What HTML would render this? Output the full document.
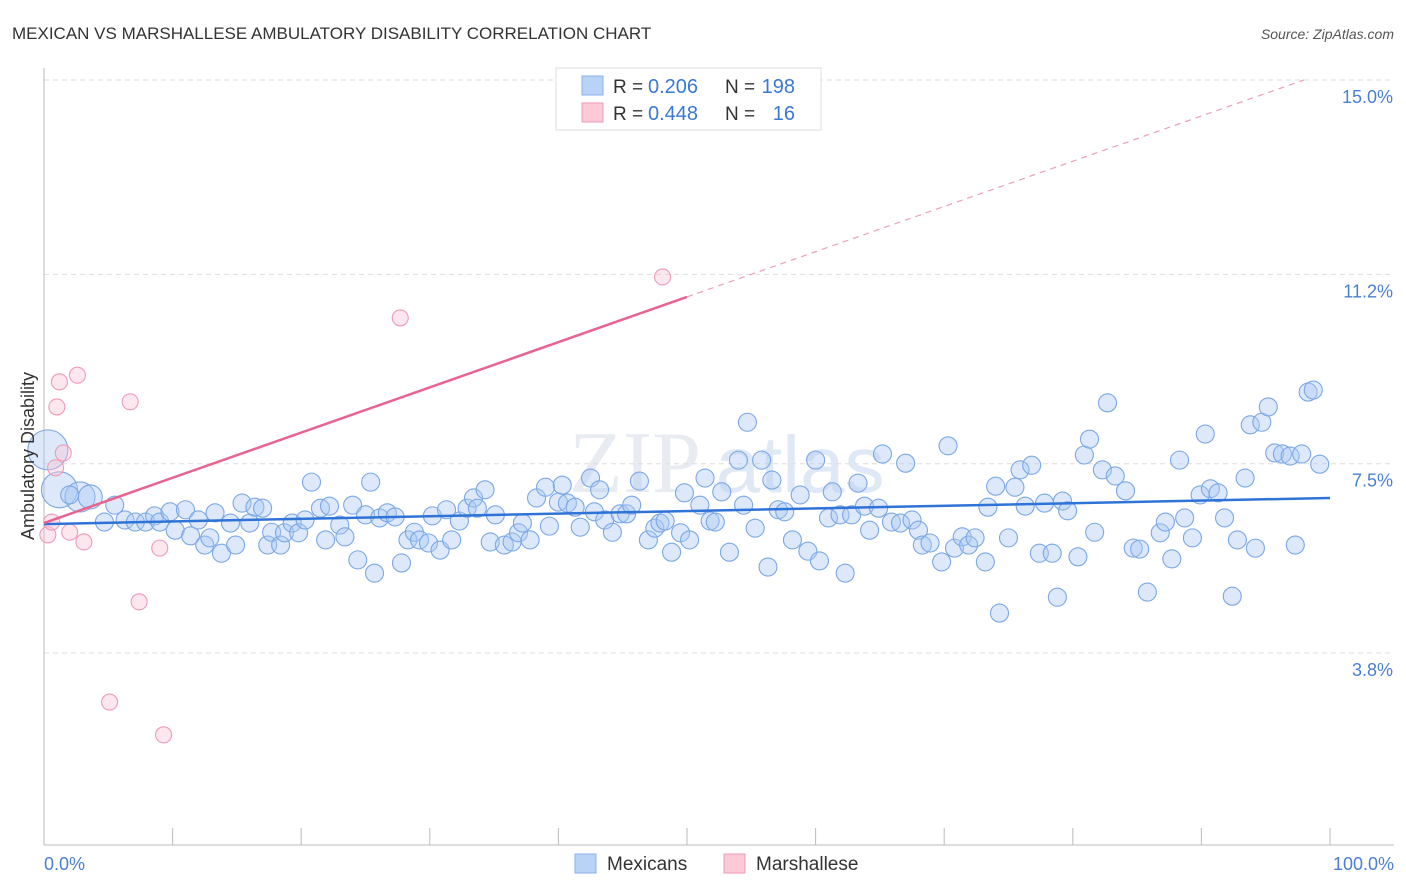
<!DOCTYPE html>
<html><head><meta charset="utf-8"><style>
body{margin:0;background:#fff;font-family:"Liberation Sans",sans-serif;}
svg{display:block}
</style></head><body>
<svg id="chart" width="1406" height="892">
<text x="12" y="39" font-size="17" fill="#333">MEXICAN VS MARSHALLESE AMBULATORY DISABILITY CORRELATION CHART</text>
<text x="1394" y="39" font-size="14" fill="#555" font-style="italic" text-anchor="end">Source: ZipAtlas.com</text>
<g>
<text x="635" y="492" font-size="88" fill="#e8ecf2" text-anchor="middle" font-family="Liberation Serif">ZIP</text>
<text x="800" y="492" font-size="80" fill="#dfe8f5" text-anchor="middle">atlas</text>
</g>
<g id="grid"></g>
<g id="axes"></g>
<g id="pts"></g>
<g id="trend"></g>
<text transform="translate(34,456) rotate(-90)" font-size="18" fill="#333" text-anchor="middle">Ambulatory Disability</text>
<text x="44" y="870" font-size="18" fill="#4a7fd4">0.0%</text>
<text x="1394" y="870" font-size="18" fill="#4a7fd4" text-anchor="end">100.0%</text>
<g>
<rect x="556" y="68" width="265" height="62" fill="#fff" stroke="#ddd"/>
<rect x="582" y="76" width="21" height="19" fill="#b9d3f7" stroke="#8ab2ec"/>
<rect x="582" y="103" width="21" height="19" fill="#fcc9d7" stroke="#f19ab5"/>
<text x="613" y="93" font-size="19" fill="#333">R =</text>
<text x="648" y="93" font-size="20" fill="#3a78d6">0.206</text>
<text x="725" y="93" font-size="19" fill="#333">N =</text>
<text x="795" y="93" font-size="20" fill="#3a78d6" text-anchor="end">198</text>
<text x="613" y="120" font-size="19" fill="#333">R =</text>
<text x="648" y="120" font-size="20" fill="#3a78d6">0.448</text>
<text x="725" y="120" font-size="19" fill="#333">N =</text>
<text x="795" y="120" font-size="20" fill="#3a78d6" text-anchor="end">16</text>
</g>
<g>
<rect x="575" y="854" width="21" height="19" fill="#b9d3f7" stroke="#8ab2ec"/>
<text x="607" y="870" font-size="19" fill="#333">Mexicans</text>
<rect x="724" y="854" width="21" height="19" fill="#fcc9d7" stroke="#f19ab5"/>
<text x="756" y="870" font-size="19" fill="#333">Marshallese</text>
</g>
</svg>
<script>
const yTicks=[15.0,11.2,7.5,3.8];
const yTickLabels=["15.0%","11.2%","7.5%","3.8%"];
const xTicks=[0,10,20,30,40,50,60,70,80,90,100];
const blueX=[0.3,1.2,2.8,3.6,2.0,4.7,5.5,6.3,7.1,7.9,8.6,9.0,9.8,10.2,11.0,11.4,12.0,12.5,12.9,13.3,13.8,14.5,14.9,15.4,16.0,16.4,17.0,17.4,17.7,18.4,18.7,19.3,19.8,20.3,20.8,21.5,21.9,22.2,23.0,23.4,24.0,24.4,25.0,25.4,25.7,26.1,26.7,27.3,27.8,28.3,28.8,29.2,29.9,30.2,30.8,31.3,31.7,32.3,32.9,33.4,33.7,34.3,34.7,35.1,35.8,36.4,36.9,37.2,37.8,38.3,39.0,39.3,40.0,40.3,40.7,41.3,41.7,42.5,42.8,43.2,43.6,44.2,44.8,45.3,45.7,46.3,47.0,47.5,47.9,48.3,48.8,49.5,49.8,50.2,51.0,51.4,51.8,52.2,52.7,53.3,54.0,54.4,54.7,55.3,55.8,56.3,56.6,57.1,57.6,58.2,58.8,59.4,60.0,60.3,61.0,61.3,61.9,62.3,62.8,63.3,63.8,64.2,64.9,65.2,65.9,66.6,67.0,67.5,68.0,68.3,68.9,69.8,70.3,70.8,71.4,71.9,72.4,73.2,73.4,74.0,74.3,75.0,75.5,75.9,76.3,76.8,77.4,77.8,78.4,78.8,79.2,79.6,80.4,80.9,81.3,81.7,82.3,82.7,83.3,84.1,84.7,85.2,85.8,86.8,87.2,87.7,88.3,88.7,89.3,89.9,90.3,90.7,91.3,91.8,92.4,92.8,93.4,93.8,94.2,94.7,95.2,95.7,96.3,96.9,97.3,97.8,98.3,98.7,99.2];
const blueY=[7.77,6.99,6.85,6.85,6.89,6.36,6.69,6.40,6.36,6.36,6.48,6.36,6.56,6.20,6.60,6.09,6.40,5.91,6.05,6.54,5.75,6.34,5.91,6.73,6.34,6.65,6.63,5.91,6.16,5.91,6.15,6.34,6.15,6.40,7.14,6.63,6.01,6.67,6.30,6.07,6.69,5.62,6.50,7.14,5.36,6.44,6.54,6.46,5.56,6.01,6.16,6.01,5.95,6.48,5.81,6.60,6.01,6.38,6.63,6.83,6.63,6.99,5.97,6.50,5.91,5.97,6.15,6.34,6.01,6.83,7.04,6.28,6.75,7.08,6.73,6.65,6.26,7.22,6.56,6.99,6.40,6.16,6.52,6.52,6.69,7.16,6.01,6.24,6.34,6.38,5.77,6.15,6.93,6.01,6.69,7.22,6.38,6.36,6.95,5.77,7.57,6.69,8.31,6.24,7.57,5.48,7.18,6.60,6.56,6.01,6.89,5.79,7.57,5.60,6.44,6.95,6.50,5.36,6.50,7.12,6.67,6.20,6.63,7.69,6.36,6.34,7.51,6.40,6.20,5.91,5.95,5.58,7.85,5.85,6.07,5.91,6.05,5.58,6.65,7.06,4.58,6.05,7.04,7.38,6.67,7.47,5.75,6.73,5.75,4.89,6.77,6.58,5.68,7.67,7.98,6.16,7.38,8.69,7.26,6.97,5.85,5.83,4.99,6.15,6.36,5.64,7.57,6.44,6.05,6.89,8.08,7.01,6.93,6.44,4.91,6.01,7.22,8.26,5.85,8.31,8.61,7.71,7.69,7.65,5.91,7.69,8.90,8.94,7.49];
const blueR=[20,18,15,12];
const pinkX=[0.3,0.6,0.9,1.0,1.2,1.5,2.0,2.6,3.1,5.1,6.7,7.4,9.0,9.3,27.7,48.1];
const pinkY=[6.11,6.36,7.42,8.61,9.10,7.71,6.16,9.23,5.97,2.84,8.71,4.80,5.85,2.20,10.35,11.15];
const blueTrend=[6.32,6.83];
const pinkTrend=[6.34,10.76];
const X0=44,X1=1330,YT=80,PX_PER=51.16;
const sx=v=>X0+(X1-X0)*v/100;
const sy=v=>YT+(15-v)*PX_PER;
const NS="http://www.w3.org/2000/svg";
function mk(tag,attrs,parent){const e=document.createElementNS(NS,tag);for(const k in attrs)e.setAttribute(k,attrs[k]);parent.appendChild(e);return e;}
const grid=document.getElementById('grid'),axes=document.getElementById('axes'),pts=document.getElementById('pts'),trend=document.getElementById('trend');
yTicks.forEach((t,i)=>{
 const l=mk('line',{x1:44,x2:1394,y1:sy(t),y2:sy(t),stroke:'#ddd','stroke-dasharray':'5,4'},grid);
 
 
 const tx=mk('text',{x:1393,y:sy(t)+23,'font-size':18,fill:'#4a7fd4','text-anchor':'end'},grid);
 tx.textContent=yTickLabels[i];
 
 
});
const la=mk('line',{x1:44,x2:44,y1:68,y2:845,stroke:'#bbb'},axes);


const lb=mk('line',{x1:44,x2:1394,y1:845,y2:845,stroke:'#bbb'},axes);


xTicks.forEach(t=>{
 const l=mk('line',{x1:sx(t),x2:sx(t),y1:828,y2:845,stroke:'#bbb'},axes);
 
 
});
blueX.forEach((x,i)=>{
 const r=i<blueR.length?blueR[i]:9;
 const c=mk('circle',{cx:sx(x),cy:sy(blueY[i]),r:r,fill:'rgba(170,200,242,0.4)',stroke:'#7aa7e6','stroke-width':1.1},pts);
 
 
});
pinkX.forEach((x,i)=>{
 const c=mk('circle',{cx:sx(x),cy:sy(pinkY[i]),r:8,fill:'rgba(250,195,212,0.4)',stroke:'#f09ab4','stroke-width':1.1},pts);
 
 
});
const bt=mk('line',{x1:sx(0),y1:sy(blueTrend[0]),x2:sx(100),y2:sy(blueTrend[1]),stroke:'#2f73d6','stroke-width':2.5},trend);


const slope=(pinkTrend[1]-pinkTrend[0])/50;
const pt=mk('line',{x1:sx(0),y1:sy(pinkTrend[0]),x2:sx(50),y2:sy(pinkTrend[1]),stroke:'#e8638f','stroke-width':2.5},trend);


const xEnd=(15-pinkTrend[0])/slope;
const pd=mk('line',{x1:sx(50),y1:sy(pinkTrend[1]),x2:sx(xEnd),y2:sy(15),stroke:'#eba0b8','stroke-width':1.2,'stroke-dasharray':'6,5'},trend);


</script>
</body></html>
